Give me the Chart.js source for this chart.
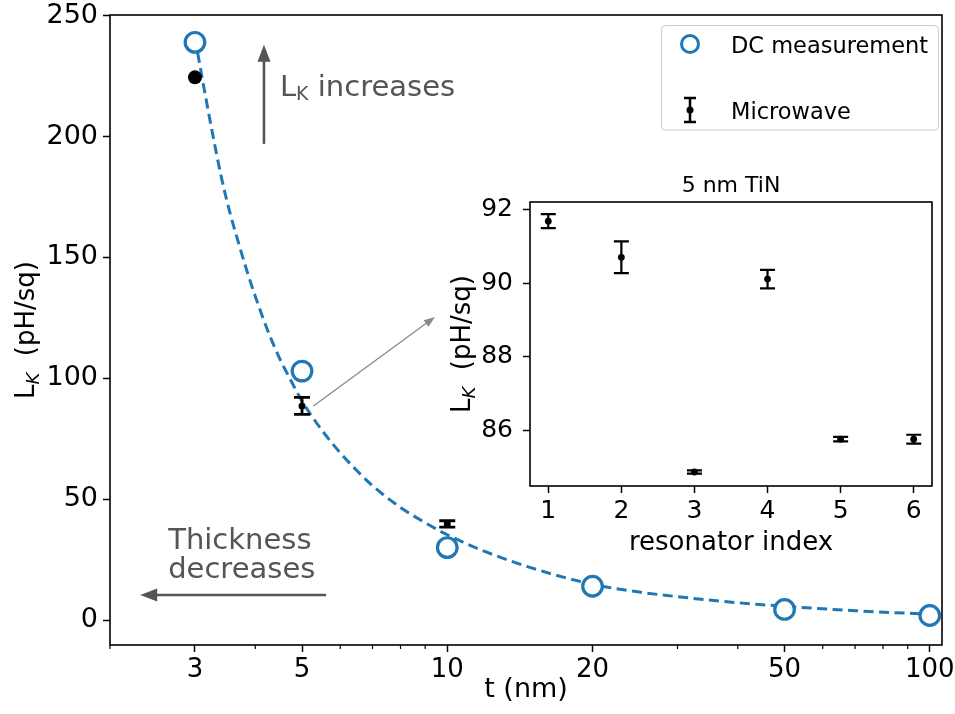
<!DOCTYPE html>
<html>
<head>
<meta charset="utf-8">
<script src="https://cdn.jsdelivr.net/npm/chart.js@4.4.1/dist/chart.umd.min.js"></script>
<style>
  html, body { margin: 0; padding: 0; background: #fff; }
  #wrap { position: relative; width: 955px; height: 714px; }
  #main { position: absolute; left: 0; top: 0; }
  #inset { position: absolute; left: 440px; top: 168px; }
</style>
</head>
<body>
<div id="wrap">
  <canvas id="main" width="955" height="714"></canvas>
  <canvas id="inset" width="500" height="390"></canvas>
</div>
<script>
// film thickness (nm) vs kinetic inductance (pH/sq)
const dcT = [3, 5, 10, 20, 50, 100];
const dcL = [239, 103, 30, 14, 4.4, 1.9];

const mwT = [3, 5, 10];
const mwL = [224.5, 88.6, 39.8];
const mwErr = [0, 3.5, 1.3];
const mwSize = [7, 3.5, 3.5];

// dashed fit curve
const fitT = [3, 3.1, 3.25, 3.4, 3.55, 3.7, 3.85, 4, 4.25, 4.5, 4.75, 5, 5.5, 6, 6.5, 7, 8, 9, 10, 12, 15, 20, 25, 30, 40, 50, 70, 100];
const fitL = [241, 225, 203, 183.5, 168, 155.5, 144, 134, 119.5, 108, 98.8, 90.6, 78.5, 69.2, 61.8, 55.6, 46.6, 40.3, 35.3, 28.3, 21.5, 14.8, 11.6, 9.7, 7.2, 5.7, 3.9, 2.4];

const tTicks = [3, 5, 10, 20, 50, 100];
const tMinor = [2, 4, 6, 7, 8, 9, 30, 40, 60, 70, 80, 90];
const lTicks = [0, 50, 100, 150, 200, 250];

// inset: 5 nm TiN resonators
const resIdx = [1, 2, 3, 4, 5, 6];
const resL = [91.68, 90.70, 84.88, 90.11, 85.77, 85.77];
const resErr = [0.19, 0.43, 0.045, 0.25, 0.06, 0.12];
const resTicksY = [86, 88, 90, 92];

const FONT = "'DejaVu Sans', sans-serif";
const BLUE = '#1f77b4';
const NOTE = '#555555';

// text made of pieces (for L with subscript K)
function drawRich(ctx, parts, x, y, align) {
  let w = 0;
  parts.forEach(p => {
    ctx.font = (p[2] ? 'italic ' : '') + p[1] + 'px ' + FONT;
    w += ctx.measureText(p[0]).width;
  });
  let cx = align === 'center' ? x - w / 2 : x;
  ctx.textAlign = 'left';
  ctx.textBaseline = 'alphabetic';
  parts.forEach(p => {
    ctx.font = (p[2] ? 'italic ' : '') + p[1] + 'px ' + FONT;
    ctx.fillText(p[0], cx, y + (p[3] || 0));
    cx += ctx.measureText(p[0]).width;
  });
}

function arrow(ctx, x0, y0, x1, y1, lw, head, headW, color) {
  const a = Math.atan2(y1 - y0, x1 - x0);
  ctx.save();
  ctx.strokeStyle = color;
  ctx.fillStyle = color;
  ctx.lineWidth = lw;
  ctx.beginPath();
  ctx.moveTo(x0, y0);
  ctx.lineTo(x1 - head * 0.6 * Math.cos(a), y1 - head * 0.6 * Math.sin(a));
  ctx.stroke();
  ctx.translate(x1, y1);
  ctx.rotate(a);
  ctx.beginPath();
  ctx.moveTo(0, 0);
  ctx.lineTo(-head, -headW / 2);
  ctx.lineTo(-head, headW / 2);
  ctx.closePath();
  ctx.fill();
  ctx.restore();
}

function errBar(ctx, x, yTop, yBot, cap, lw) {
  ctx.beginPath();
  ctx.moveTo(x, yTop); ctx.lineTo(x, yBot);
  ctx.moveTo(x - cap, yTop); ctx.lineTo(x + cap, yTop);
  ctx.moveTo(x - cap, yBot); ctx.lineTo(x + cap, yBot);
  ctx.lineWidth = lw;
  ctx.strokeStyle = '#000';
  ctx.stroke();
}

// error bars go under the dataset's own points
const errorBars = {
  id: 'errorBars',
  beforeDatasetDraw(chart, args) {
    const ds = chart.data.datasets[args.index];
    if (!ds.yErr) return;
    const { x, y } = chart.scales;
    const ctx = chart.ctx;
    ctx.save();
    ds.data.forEach((p, i) => {
      const e = ds.yErr[i];
      if (!e) return;
      errBar(ctx, x.getPixelForValue(p.x), y.getPixelForValue(p.y + e),
             y.getPixelForValue(p.y - e), ds.capHalf, ds.barWidth);
    });
    ctx.restore();
  }
};

const frame = {
  id: 'frame',
  afterDraw(chart) {
    const { ctx, chartArea: a } = chart;
    ctx.save();
    ctx.strokeStyle = '#000';
    ctx.lineWidth = 1.6;
    ctx.strokeRect(a.left, a.top, a.right - a.left, a.bottom - a.top);
    ctx.restore();
  }
};

function fixedTicks(values) {
  return scale => { scale.ticks = values.map(v => ({ value: v })); };
}

// keep the plot box where the layout padding puts it
function fitX(h) {
  return s => { s.height = h; s.paddingLeft = 0; s.paddingRight = 0; };
}
function fitY(w) {
  return s => { s.width = w; s.paddingTop = 0; s.paddingBottom = 0; };
}

const mainDecor = {
  id: 'mainDecor',
  afterDraw(chart) {
    const { ctx, chartArea: a } = chart;
    const x = chart.scales.x, y = chart.scales.y;
    const px = v => x.getPixelForValue(v), py = v => y.getPixelForValue(v);
    ctx.save();

    // minor ticks on the log axis
    ctx.strokeStyle = '#000';
    ctx.lineWidth = 1.2;
    ctx.beginPath();
    tMinor.forEach(v => { ctx.moveTo(px(v), a.bottom); ctx.lineTo(px(v), a.bottom + 4); });
    ctx.stroke();

    // axis titles
    ctx.fillStyle = '#000';
    drawRich(ctx, [['t (nm)', 27]], (a.left + a.right) / 2, 697, 'center');
    ctx.save();
    ctx.translate(34, (a.top + a.bottom) / 2);
    ctx.rotate(-Math.PI / 2);
    drawRich(ctx, [['L', 26], ['K', 18, true, 5], ['  (pH/sq)', 26]], 0, 0, 'center');
    ctx.restore();

    // notes
    ctx.fillStyle = NOTE;
    arrow(ctx, px(4.17), py(197), px(4.17), py(238), 2.6, 17, 13, NOTE);
    drawRich(ctx, [['L', 29], ['K', 19, false, 4], [' increases', 29]], px(4.5), py(217), 'left');
    drawRich(ctx, [['Thickness', 29]], px(2.64), py(29.6), 'left');
    drawRich(ctx, [['decreases', 29]], px(2.64), py(17.6), 'left');
    arrow(ctx, px(5.61), py(10.4), px(2.31), py(10.4), 2.6, 17, 13, NOTE);
    arrow(ctx, px(5.28), py(88.6), px(9.43), py(125.4), 1.3, 11, 8, '#888');

    // legend
    const lx = 661.5, ly = 25.5, lw = 277, lh = 104.5;
    ctx.beginPath();
    ctx.roundRect(lx, ly, lw, lh, 4);
    ctx.fillStyle = 'rgba(255,255,255,0.85)';
    ctx.fill();
    ctx.strokeStyle = '#cccccc';
    ctx.lineWidth = 1;
    ctx.stroke();

    const ds = chart.data.datasets;
    ctx.beginPath();
    ctx.arc(690, 44, 8.5, 0, Math.PI * 2);
    ctx.fillStyle = '#fff';
    ctx.fill();
    ctx.strokeStyle = BLUE;
    ctx.lineWidth = 3;
    ctx.stroke();

    errBar(ctx, 690, 98, 122, 6, 2.5);
    ctx.beginPath();
    ctx.arc(690, 110, 3.5, 0, Math.PI * 2);
    ctx.fillStyle = '#000';
    ctx.fill();

    ctx.fillStyle = '#000';
    drawRich(ctx, [[ds[1].label, 22.5]], 731, 52.5, 'left');
    drawRich(ctx, [[ds[0].label, 22.5]], 731, 119, 'left');
    ctx.restore();
  }
};

const mainChart = new Chart(document.getElementById('main'), {
  type: 'scatter',
  data: {
    datasets: [
      {
        label: 'Microwave',
        data: mwT.map((t, i) => ({ x: t, y: mwL[i] })),
        yErr: mwErr,
        capHalf: 8,
        barWidth: 2.8,
        backgroundColor: '#000',
        borderColor: '#000',
        borderWidth: 0,
        pointRadius: mwSize,
        order: 1
      },
      {
        label: 'DC measurement',
        data: dcT.map((t, i) => ({ x: t, y: dcL[i] })),
        backgroundColor: '#fff',
        borderColor: BLUE,
        borderWidth: 3.2,
        pointRadius: 9.8,
        order: 2
      },
      {
        label: 'fit',
        data: fitT.map((t, i) => ({ x: t, y: fitL[i] })),
        showLine: true,
        borderColor: BLUE,
        borderWidth: 3,
        borderDash: [10, 5.5],
        cubicInterpolationMode: 'monotone',
        pointRadius: 0,
        order: 3
      }
    ]
  },
  options: {
    responsive: false,
    animation: false,
    devicePixelRatio: 1,
    layout: { padding: { top: 15, right: 13, left: 0, bottom: 0 } },
    plugins: { legend: { display: false }, tooltip: { enabled: false } },
    scales: {
      x: {
        type: 'logarithmic',
        min: 2,
        max: 106,
        afterBuildTicks: fixedTicks(tTicks.concat(tMinor).sort((a, b) => a - b)),
        afterFit: fitX(69),
        border: { display: false },
        grid: {
          drawOnChartArea: false,
          tickLength: 7,
          tickWidth: 1.5,
          tickColor: c => tTicks.includes(c.tick.value) ? '#000' : 'rgba(0,0,0,0)'
        },
        ticks: {
          autoSkip: false,
          maxRotation: 0,
          padding: 3,
          color: '#000',
          font: { family: FONT, size: 26 },
          callback: v => tTicks.includes(v) ? String(v) : ''
        }
      },
      y: {
        min: -10.3,
        max: 250.3,
        afterBuildTicks: fixedTicks(lTicks),
        afterFit: fitY(110),
        border: { display: false },
        grid: { drawOnChartArea: false, tickLength: 7, tickWidth: 1.5, tickColor: '#000' },
        ticks: { padding: 5, color: '#000', font: { family: FONT, size: 27 } }
      }
    }
  },
  plugins: [errorBars, frame, mainDecor]
});

const insetDecor = {
  id: 'insetDecor',
  afterDraw(chart) {
    const { ctx, chartArea: a } = chart;
    ctx.save();
    ctx.fillStyle = '#000';
    drawRich(ctx, [['5 nm TiN', 22]], (a.left + a.right) / 2, 23.7, 'center');
    drawRich(ctx, [['resonator index', 26]], (a.left + a.right) / 2, 382, 'center');
    ctx.translate(30, (a.top + a.bottom) / 2);
    ctx.rotate(-Math.PI / 2);
    drawRich(ctx, [['L', 26], ['K', 18, true, 5], ['  (pH/sq)', 26]], 0, 0, 'center');
    ctx.restore();
  }
};

const insetChart = new Chart(document.getElementById('inset'), {
  type: 'scatter',
  data: {
    datasets: [{
      label: '5 nm TiN',
      data: resIdx.map((r, i) => ({ x: r, y: resL[i] })),
      yErr: resErr,
      capHalf: 7.5,
      barWidth: 2.2,
      backgroundColor: '#000',
      borderWidth: 0,
      pointRadius: 3.4
    }]
  },
  options: {
    responsive: false,
    animation: false,
    devicePixelRatio: 1,
    layout: { padding: { top: 34, right: 8, left: 0, bottom: 0 } },
    plugins: { legend: { display: false }, tooltip: { enabled: false } },
    scales: {
      x: {
        type: 'linear',
        min: 0.75,
        max: 6.25,
        afterBuildTicks: fixedTicks(resIdx),
        afterFit: fitX(72),
        border: { display: false },
        grid: { drawOnChartArea: false, tickLength: 7, tickWidth: 1.5, tickColor: '#000' },
        ticks: { padding: 3, maxRotation: 0, color: '#000', font: { family: FONT, size: 25 } }
      },
      y: {
        min: 84.5,
        max: 92.2,
        afterBuildTicks: fixedTicks(resTicksY),
        afterFit: fitY(90),
        border: { display: false },
        grid: { drawOnChartArea: false, tickLength: 7, tickWidth: 1.5, tickColor: '#000' },
        ticks: { padding: 10, color: '#000', font: { family: FONT, size: 25 } }
      }
    }
  },
  plugins: [errorBars, frame, insetDecor]
});
</script>
</body>
</html>
